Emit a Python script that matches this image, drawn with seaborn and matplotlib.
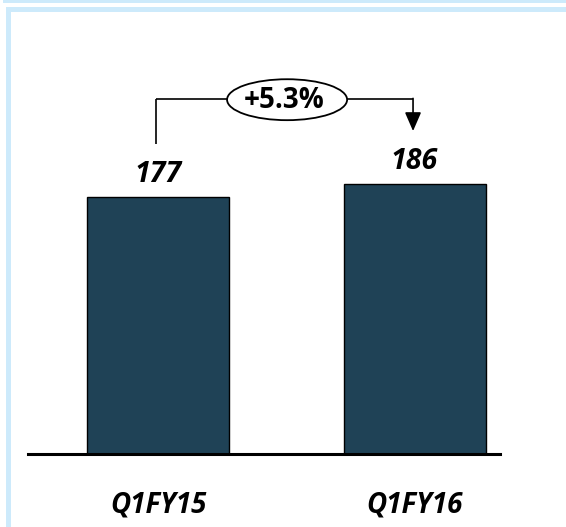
import matplotlib
matplotlib.use("Agg")
import matplotlib.pyplot as plt
from matplotlib.patches import Ellipse, Rectangle
import seaborn as sns
import pandas as pd

# Data
quarters = ["Q1FY15", "Q1FY16"]
values = [177, 186]
growth_label = "+5.3%"

BAR_COLOR = "#1f4256"
FRAME_COLOR = "#cdeafb"

sns.set_theme(style="white")
plt.rcParams["font.family"] = ["Open Sans", "DejaVu Sans"]

W, H = 566, 527
fig = plt.figure(figsize=(W / 100, H / 100), dpi=100)
fig.patch.set_facecolor("white")

# Light blue slide frame
def px_rect(x0, y0, x1, y1):
    return Rectangle((x0 / W, 1 - y1 / H), (x1 - x0) / W, (y1 - y0) / H,
                     transform=fig.transFigure, facecolor=FRAME_COLOR,
                     edgecolor="none", zorder=0)

fig.patches.append(px_rect(3, 0, W, 3))
fig.patches.append(px_rect(6, 7, W, 12))
fig.patches.append(px_rect(6, 7, 11, H))

# Axes placed so the baseline sits near the bottom of the frame
ax = fig.add_axes([28 / W, 1 - 454 / H, 472 / W, 424 / H])
ax.set_facecolor("none")

df = pd.DataFrame({"quarter": quarters, "value": values})
sns.barplot(data=df, x="quarter", y="value", color=BAR_COLOR, saturation=1,
            width=0.554, edgecolor="black", linewidth=1.0, ax=ax)

ax.set_xlim(-0.507, 1.333)
ax.set_ylim(0, 292)

for side in ["top", "left", "right"]:
    ax.spines[side].set_visible(False)
ax.spines["bottom"].set_linewidth(2.2)
ax.spines["bottom"].set_color("black")

ax.set_yticks([])
ax.set_xlabel("")
ax.set_ylabel("")
ax.tick_params(axis="x", length=0, pad=26)
for lbl in ax.get_xticklabels():
    lbl.set_fontsize(20)
    lbl.set_fontweight("bold")
    lbl.set_fontstyle("italic")
    lbl.set_color("black")

# Value labels above bars
for cont in ax.containers:
    ax.bar_label(cont, labels=[str(v) for v in values], padding=6,
                 fontsize=20.5, fontweight="bold", fontstyle="italic",
                 color="black")

# Growth bracket
line_kw = dict(color="black", linewidth=1.2, solid_capstyle="butt")
y_top = 244.5
ell_cx, ell_cy, ell_w, ell_h = 0.503, 244.0, 0.468, 28.2
ax.plot([-0.008, -0.008], [213.5, y_top], **line_kw)
ax.plot([-0.008, ell_cx - ell_w / 2], [y_top, y_top], **line_kw)
ax.plot([ell_cx + ell_w / 2, 0.994], [y_top, y_top], **line_kw)
ax.annotate("", xy=(0.994, 222.4), xytext=(0.994, y_top + 0.4),
            arrowprops=dict(arrowstyle="-|>,head_length=1.15,head_width=0.5",
                            mutation_scale=10, color="black", linewidth=1.2,
                            shrinkA=0, shrinkB=0))
ax.add_patch(Ellipse((ell_cx, ell_cy), ell_w, ell_h, facecolor="white",
                     edgecolor="black", linewidth=1.3, zorder=5))
ax.text(0.49, 243.6, growth_label, ha="center", va="center",
        fontsize=20, fontweight="bold", color="black", zorder=6)

fig.savefig("out.png", dpi=100)
